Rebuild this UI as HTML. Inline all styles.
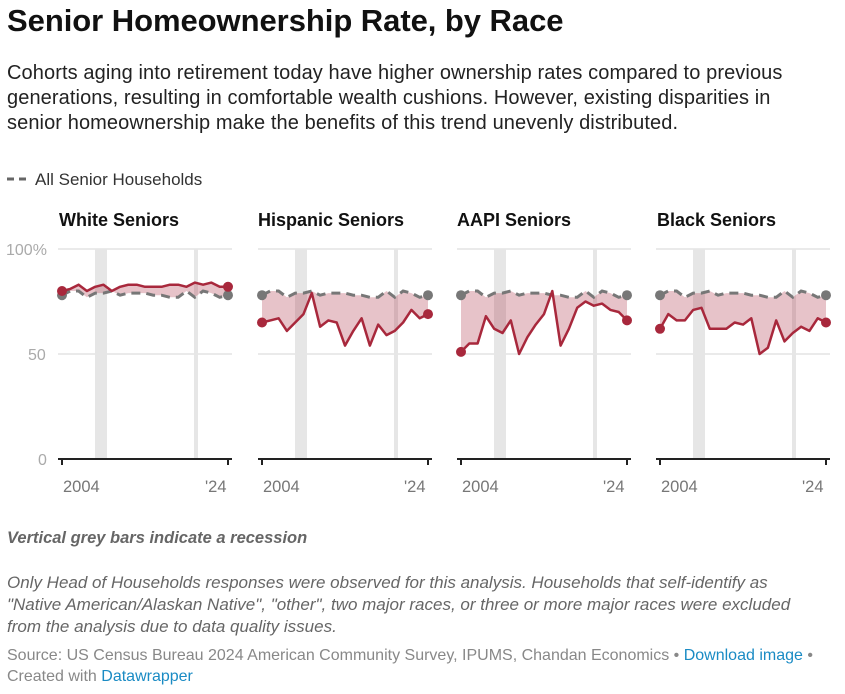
<!DOCTYPE html>
<html><head><meta charset="utf-8"><style>
body{margin:0;background:#fff;font-family:"Liberation Sans",sans-serif;width:845px;height:694px;overflow:hidden;position:relative}
.a{position:absolute;white-space:nowrap}
h1{position:absolute;left:7px;top:3px;margin:0;font-size:31px;font-weight:bold;color:#111;letter-spacing:-0.05px}
.desc{left:7px;top:61px;font-size:20px;line-height:25px;color:#222;letter-spacing:0.1px}
.note{font-style:italic;color:#666;font-size:17px}
svg text{font-family:"Liberation Sans",sans-serif}
</style></head><body>
<h1>Senior Homeownership Rate, by Race</h1>
<div class="a desc">Cohorts aging into retirement today have higher ownership rates compared to previous<br>generations, resulting in comfortable wealth cushions. However, existing disparities in<br>senior homeownership make the benefits of this trend unevenly distributed.</div>
<svg class="a" style="left:0;top:0" width="845" height="520" id="s">
<line x1="7" y1="179" x2="29" y2="179" stroke="#666" stroke-width="3" stroke-dasharray="7,5"/>
<text x="35" y="185" font-size="17" fill="#333">All Senior Households</text>
<g font-size="18" font-weight="bold" fill="#111">
<text x="59" y="226">White Seniors</text>
<text x="258" y="226">Hispanic Seniors</text>
<text x="457" y="226">AAPI Seniors</text>
<text x="657" y="226">Black Seniors</text>
</g>
<g font-size="16" fill="#aaa">
<text x="6" y="255">100%</text>
<text x="28" y="360">50</text>
<text x="38" y="465">0</text>
</g>
<g font-size="16.5" fill="#777" id="xl">
<text x="63" y="492">2004</text><text x="205" y="492">'24</text>
<text x="263" y="492">2004</text><text x="404" y="492">'24</text>
<text x="462" y="492">2004</text><text x="603" y="492">'24</text>
<text x="661" y="492">2004</text><text x="802" y="492">'24</text>
</g>
</svg>
<div class="a note" style="left:7px;top:529px;font-weight:bold;font-size:16.5px">Vertical grey bars indicate a recession</div>
<div class="a note" style="left:7px;top:572px;line-height:22px">Only Head of Households responses were observed for this analysis. Households that self-identify as<br>"Native American/Alaskan Native", "other", two major races, or three or more major races were excluded<br>from the analysis due to data quality issues.</div>
<div class="a" style="left:7px;top:645px;font-size:16px;line-height:21px;color:#888">Source: US Census Bureau 2024 American Community Survey, IPUMS, Chandan Economics • <span style="color:#1a8bc4">Download image</span> •<br>Created with <span style="color:#1a8bc4">Datawrapper</span></div>
<script>
var NS="http://www.w3.org/2000/svg",s=document.getElementById('s');
function el(t,a){var e=document.createElementNS(NS,t);for(var k in a)e.setAttribute(k,a[k]);s.insertBefore(e,document.getElementById('xl'));return e;}
var all=[78,80,80,77,79,79,80,78,79,79,79,78,78,77,77,80,77,80,79,77,78];
var D=[[80,81,83,80,82,83,80,82,83,83,82,82,82,83,83,82,84,83,84,82,82],
[65,66,67,61,65,69,79,63,66,65,54,61,67,54,64,59,61,65,71,67,69],
[51,55,55,68,62,60,66,50,58,64,69,80,54,62,72,75,73,74,71,70,66],
[62,69,66,66,71,72,62,62,62,65,64,67,50,53,66,56,60,63,61,67,65]];
var off=[0,200,399,598];
function Y(v){return 459-v*2.1;}
off.forEach(function(o,p){
 var x0=58+o,X=function(i){return 62+o+i*8.3;};
 el('line',{x1:x0,x2:x0+174,y1:249,y2:249,stroke:'#e3e3e3','stroke-width':1.5});
 el('line',{x1:x0,x2:x0+174,y1:354,y2:354,stroke:'#e3e3e3','stroke-width':1.5});
 el('rect',{x:X(0)+33,y:249,width:12,height:210,fill:'#e6e6e6'});
 el('rect',{x:X(0)+132,y:249,width:4,height:210,fill:'#e6e6e6'});
 var d=D[p],a='',b='',f='';
 for(var i=0;i<21;i++){a+=(i?'L':'M')+X(i).toFixed(1)+','+Y(d[i]).toFixed(1);b+=(i?'L':'M')+X(i).toFixed(1)+','+Y(all[i]).toFixed(1);}
 f=a;for(var i=20;i>=0;i--)f+='L'+X(i).toFixed(1)+','+Y(all[i]).toFixed(1);
 el('path',{d:f+'Z',fill:'rgba(170,40,60,0.28)'});
 el('path',{d:b,fill:'none',stroke:'#777','stroke-width':3,'stroke-dasharray':'9,6'});
 el('path',{d:a,fill:'none',stroke:'#a8283c','stroke-width':2.5,'stroke-linejoin':'round'});
 el('circle',{cx:X(0),cy:Y(all[0]),r:5,fill:'#777'});el('circle',{cx:X(20),cy:Y(all[20]),r:5,fill:'#777'});
 el('circle',{cx:X(0),cy:Y(d[0]),r:5,fill:'#a8283c'});el('circle',{cx:X(20),cy:Y(d[20]),r:5,fill:'#a8283c'});
 el('line',{x1:x0,x2:x0+174,y1:459,y2:459,stroke:'#222','stroke-width':2});
 el('line',{x1:X(0),x2:X(0),y1:459,y2:465,stroke:'#222','stroke-width':2});
 el('line',{x1:X(20),x2:X(20),y1:459,y2:465,stroke:'#222','stroke-width':2});
});
</script>
</body></html>
